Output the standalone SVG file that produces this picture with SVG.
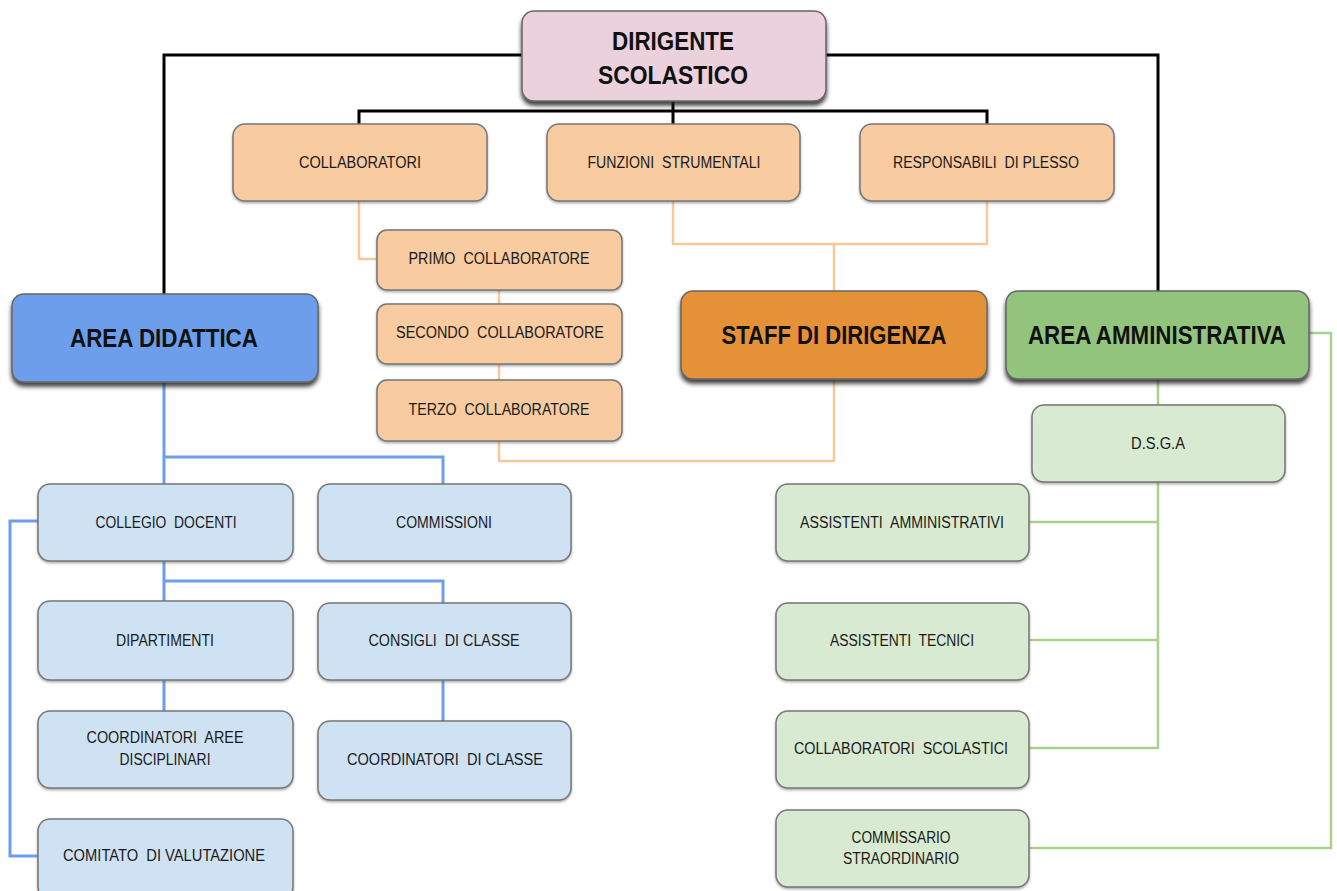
<svg xmlns="http://www.w3.org/2000/svg" width="1337" height="891" viewBox="0 0 1337 891">
<defs>
<filter id="shBig" x="-10%" y="-10%" width="120%" height="140%">
<feDropShadow dx="0" dy="4" stdDeviation="2" flood-color="#222" flood-opacity="0.85"/>
</filter>
<filter id="shSm" x="-10%" y="-10%" width="120%" height="140%">
<feDropShadow dx="0" dy="1.5" stdDeviation="1" flood-color="#555" flood-opacity="0.5"/>
</filter>
</defs>
<style>
.big{stroke:#666;stroke-width:1.5;filter:url(#shBig)}
.sm{stroke:#777;stroke-width:1.5;filter:url(#shSm)}
.pink{fill:#EAD1DC}.peach{fill:#F8CBA0}.orange{fill:#E59139}.green{fill:#93C47D}.blue{fill:#6D9EEB}
.lblue{fill:#CFE2F3}.lgreen{fill:#D9EAD3}
text{font-family:"Liberation Sans",Arial,sans-serif;text-anchor:middle;fill:#1a1a1a;white-space:pre}
.bt{font-size:25px;font-weight:bold;fill:#111}
.st{font-size:16px}
.k{fill:none;stroke:#000;stroke-width:3}
.p{fill:none;stroke:#F9C899;stroke-width:2.5}
.b{fill:none;stroke:#6D9EEB;stroke-width:3}
.g{fill:none;stroke:#A8D18D;stroke-width:2.5}
</style>
<rect width="1337" height="891" fill="#fff"/>
<g id="connectors">
<path class="k" d="M522 55H164V294M826 55H1158V291"/>
<path class="k" d="M673 101V111M359 124V111H987V124M673 111V124"/>
<path class="p" d="M359 201V259H377M499 290V304M499 364V380M499 441V461H834V380"/>
<path class="p" d="M673 201V244H987V201M834 244V291"/>
<path class="b" d="M164 382V484M164 457H443V484M164 561V601M164 581H443V603M164 680V711M443 680V721M38 521H10V856H38"/>
<path class="g" d="M1158 379V405M1158 482V748H1029M1158 522H1029M1158 640H1029M1309 333H1331V848H1029"/>
</g>
<g id="dirigente"><rect class="big pink" x="522" y="11" width="304" height="90" rx="12"/>
<text class="bt" x="673" y="50" textLength="122" lengthAdjust="spacingAndGlyphs">DIRIGENTE</text>
<text class="bt" x="673" y="84" textLength="150" lengthAdjust="spacingAndGlyphs">SCOLASTICO</text></g>
<g id="collaboratori"><rect class="sm peach" x="233" y="124" width="254" height="77" rx="12"/>
<text class="st" x="360" y="168" textLength="122" lengthAdjust="spacingAndGlyphs">COLLABORATORI</text></g>
<g id="funzioni"><rect class="sm peach" x="547" y="124" width="253" height="77" rx="12"/>
<text class="st" x="674" y="168" textLength="173" lengthAdjust="spacingAndGlyphs" xml:space="preserve">FUNZIONI  STRUMENTALI</text></g>
<g id="responsabili"><rect class="sm peach" x="860" y="124" width="254" height="77" rx="12"/>
<text class="st" x="986" y="168" textLength="186" lengthAdjust="spacingAndGlyphs" xml:space="preserve">RESPONSABILI  DI PLESSO</text></g>
<g id="primo"><rect class="sm peach" x="377" y="230" width="245" height="60" rx="10"/>
<text class="st" x="499" y="264" textLength="181" lengthAdjust="spacingAndGlyphs" xml:space="preserve">PRIMO  COLLABORATORE</text></g>
<g id="secondo"><rect class="sm peach" x="377" y="304" width="245" height="60" rx="10"/>
<text class="st" x="500" y="338" textLength="208" lengthAdjust="spacingAndGlyphs" xml:space="preserve">SECONDO  COLLABORATORE</text></g>
<g id="terzo"><rect class="sm peach" x="377" y="380" width="245" height="61" rx="10"/>
<text class="st" x="499" y="415" textLength="181" lengthAdjust="spacingAndGlyphs" xml:space="preserve">TERZO  COLLABORATORE</text></g>
<g id="area-didattica"><rect class="big blue" x="12" y="294" width="306" height="88" rx="12"/>
<text class="bt" x="164" y="347" textLength="188" lengthAdjust="spacingAndGlyphs">AREA DIDATTICA</text></g>
<g id="staff"><rect class="big orange" x="681" y="291" width="306" height="88" rx="12"/>
<text class="bt" x="834" y="344" textLength="225" lengthAdjust="spacingAndGlyphs">STAFF DI DIRIGENZA</text></g>
<g id="area-amministrativa"><rect class="big green" x="1006" y="291" width="303" height="88" rx="12"/>
<text class="bt" x="1157" y="344" textLength="258" lengthAdjust="spacingAndGlyphs">AREA AMMINISTRATIVA</text></g>
<g id="collegio"><rect class="sm lblue" x="38" y="484" width="255" height="77" rx="12"/>
<text class="st" x="166" y="528" textLength="141" lengthAdjust="spacingAndGlyphs" xml:space="preserve">COLLEGIO  DOCENTI</text></g>
<g id="commissioni"><rect class="sm lblue" x="318" y="484" width="253" height="77" rx="12"/>
<text class="st" x="444" y="528" textLength="96" lengthAdjust="spacingAndGlyphs">COMMISSIONI</text></g>
<g id="dipartimenti"><rect class="sm lblue" x="38" y="601" width="255" height="79" rx="12"/>
<text class="st" x="165" y="646" textLength="98" lengthAdjust="spacingAndGlyphs">DIPARTIMENTI</text></g>
<g id="consigli"><rect class="sm lblue" x="318" y="603" width="253" height="77" rx="12"/>
<text class="st" x="444" y="646" textLength="151" lengthAdjust="spacingAndGlyphs" xml:space="preserve">CONSIGLI  DI CLASSE</text></g>
<g id="coord-aree"><rect class="sm lblue" x="38" y="711" width="255" height="77" rx="12"/>
<text class="st" x="165" y="743" textLength="157" lengthAdjust="spacingAndGlyphs" xml:space="preserve">COORDINATORI  AREE</text>
<text class="st" x="165" y="765" textLength="91" lengthAdjust="spacingAndGlyphs">DISCIPLINARI</text></g>
<g id="coord-classe"><rect class="sm lblue" x="318" y="721" width="253" height="79" rx="12"/>
<text class="st" x="445" y="765" textLength="196" lengthAdjust="spacingAndGlyphs" xml:space="preserve">COORDINATORI  DI CLASSE</text></g>
<g id="comitato"><rect class="sm lblue" x="38" y="819" width="255" height="80" rx="12"/>
<text class="st" x="164" y="861" textLength="202" lengthAdjust="spacingAndGlyphs" xml:space="preserve">COMITATO  DI VALUTAZIONE</text></g>
<g id="dsga"><rect class="sm lgreen" x="1032" y="405" width="253" height="77" rx="12"/>
<text class="st" x="1158" y="449" textLength="54" lengthAdjust="spacingAndGlyphs">D.S.G.A</text></g>
<g id="ass-amm"><rect class="sm lgreen" x="776" y="484" width="253" height="77" rx="12"/>
<text class="st" x="902" y="528" textLength="204" lengthAdjust="spacingAndGlyphs" xml:space="preserve">ASSISTENTI  AMMINISTRATIVI</text></g>
<g id="ass-tec"><rect class="sm lgreen" x="776" y="603" width="253" height="77" rx="12"/>
<text class="st" x="902" y="646" textLength="144" lengthAdjust="spacingAndGlyphs" xml:space="preserve">ASSISTENTI  TECNICI</text></g>
<g id="collab-scol"><rect class="sm lgreen" x="776" y="711" width="253" height="77" rx="12"/>
<text class="st" x="901" y="754" textLength="214" lengthAdjust="spacingAndGlyphs" xml:space="preserve">COLLABORATORI  SCOLASTICI</text></g>
<g id="commissario"><rect class="sm lgreen" x="776" y="810" width="253" height="77" rx="12"/>
<text class="st" x="901" y="843" textLength="99" lengthAdjust="spacingAndGlyphs">COMMISSARIO</text>
<text class="st" x="901" y="864" textLength="116" lengthAdjust="spacingAndGlyphs">STRAORDINARIO</text></g>
</svg>
